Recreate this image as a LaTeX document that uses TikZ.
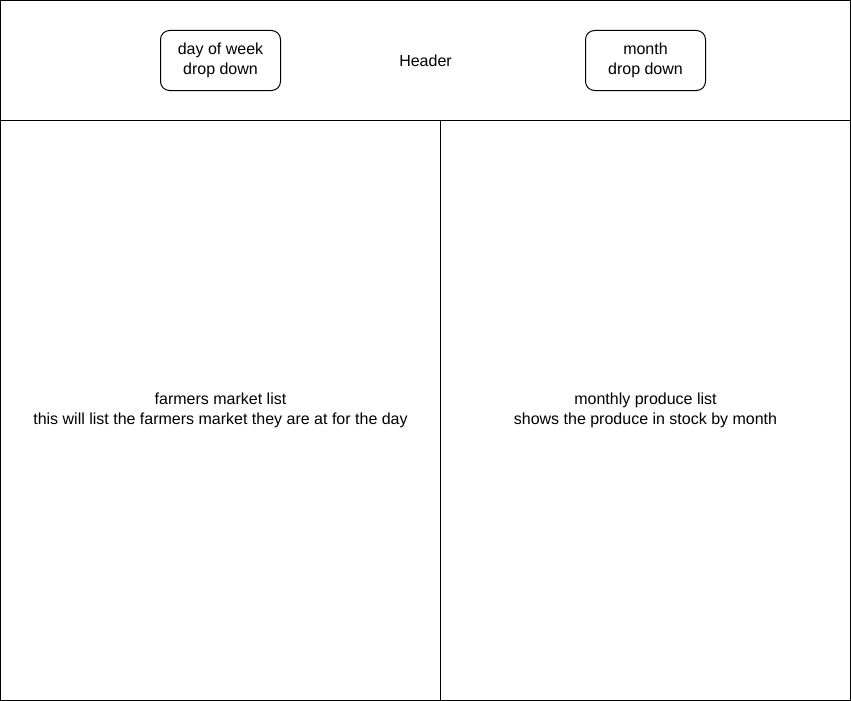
\documentclass[tikz,border=0pt]{standalone}
\usepackage{fontspec}
\setmainfont{Liberation Sans}
\usetikzlibrary{positioning}

\begin{document}
\begin{tikzpicture}[x=1pt, y=-1pt, line width=1pt, every node/.style={font=\fontsize{16}{20}\selectfont, align=center, inner sep=1pt}]

            \useasboundingbox (0,0) rectangle (851,701);

            \tikzset{
                panel/.style={draw, minimum width=#1, minimum height=580},
                dropbox/.style={draw, rounded corners=9pt, minimum width=120, minimum height=60}
            }

            \node[draw, minimum width=850, minimum height=120] (header) at (425.5,60.5) {Header};
            \node[panel=440] (marketlist) at (220.5,410.5) {farmers market list\\this will list the farmers market they are at for the day};
            \node[panel=410] (producelist) at (645.5,410.5) {monthly produce list\\shows the produce in stock by month};

            \node[dropbox] (daydrop) at (marketlist |- header) {day of week\\drop down};
            \node[dropbox] (monthdrop) at (producelist |- header) {month\\drop down};
        \end{tikzpicture}
\end{document}
